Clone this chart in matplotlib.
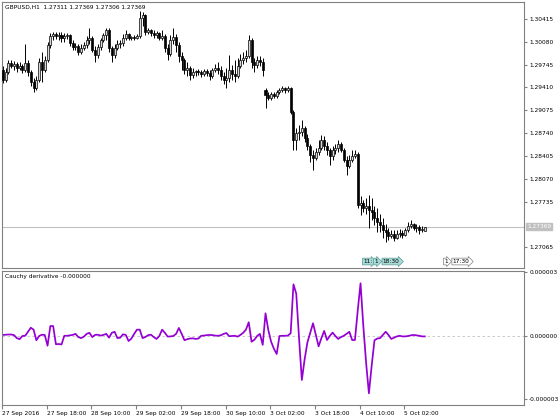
import matplotlib
matplotlib.use('Agg')
import matplotlib.pyplot as plt
import numpy as np

# GBPUSD H1 candles
symbol = 'GBPUSD,H1'
opens = [
    1.29667, 1.29520, 1.29638, 1.29770, 1.29726, 1.29755, 1.29696, 1.29726, 1.29667, 1.29770,
    1.29638, 1.29491, 1.29403, 1.29520, 1.29784, 1.29667, 1.29814, 1.30034, 1.30166, 1.30195,
    1.30166, 1.30181, 1.30137, 1.30166, 1.30181, 1.30063, 1.30004, 1.30019, 1.29931, 1.29990,
    1.30034, 1.30107, 1.30137, 1.29961, 1.29887, 1.30004, 1.30107, 1.30181, 1.30254, 1.29990,
    1.29887, 1.29990, 1.30049, 1.30063, 1.30137, 1.30195, 1.30137, 1.30151, 1.30137, 1.30166,
    1.30430, 1.30474, 1.30225, 1.30254, 1.30210, 1.30181, 1.30210, 1.30137, 1.30166, 1.29990,
    1.29902, 1.30107, 1.30151, 1.30034, 1.29872, 1.29814, 1.29667, 1.29696, 1.29594, 1.29638,
    1.29652, 1.29638, 1.29608, 1.29652, 1.29623, 1.29579, 1.29667, 1.29696, 1.29667, 1.29579,
    1.29520, 1.29550, 1.29667, 1.29608, 1.29579, 1.29726, 1.29814, 1.29843, 1.29872, 1.30107,
    1.29784, 1.29740, 1.29814, 1.29784, 1.29374, 1.29300, 1.29256, 1.29315, 1.29286, 1.29344,
    1.29374, 1.29403, 1.29374, 1.29403, 1.29051, 1.28640, 1.28743, 1.28758, 1.28816, 1.28670,
    1.28552, 1.28420, 1.28376, 1.28464, 1.28523, 1.28640, 1.28552, 1.28494, 1.28405, 1.28494,
    1.28523, 1.28582, 1.28494, 1.28347, 1.28259, 1.28347, 1.28405, 1.28435, 1.27687, 1.27716,
    1.27643, 1.27672, 1.27613, 1.27584, 1.27496, 1.27437, 1.27393, 1.27320, 1.27291, 1.27232,
    1.27261, 1.27203, 1.27261, 1.27276, 1.27247, 1.27320, 1.27379, 1.27408, 1.27349, 1.27364,
    1.27320, 1.27311]
highs = [
    1.29726, 1.29696, 1.29814, 1.29814, 1.29799, 1.29784, 1.29784, 1.29755, 1.30049, 1.29814,
    1.29667, 1.29550, 1.29579, 1.29843, 1.29931, 1.29872, 1.30078, 1.30210, 1.30225, 1.30225,
    1.30225, 1.30225, 1.30210, 1.30210, 1.30195, 1.30107, 1.30063, 1.30049, 1.30049, 1.30078,
    1.30166, 1.30283, 1.30166, 1.30019, 1.30049, 1.30137, 1.30210, 1.30283, 1.30283, 1.30019,
    1.30049, 1.30107, 1.30107, 1.30195, 1.30254, 1.30210, 1.30166, 1.30181, 1.30195, 1.30533,
    1.30518, 1.30489, 1.30283, 1.30269, 1.30254, 1.30239, 1.30225, 1.30254, 1.30195, 1.30049,
    1.30181, 1.30283, 1.30195, 1.30078, 1.29931, 1.29843, 1.29784, 1.29726, 1.29696, 1.29667,
    1.29682, 1.29667, 1.29682, 1.29682, 1.29667, 1.29696, 1.29755, 1.29784, 1.29726, 1.29638,
    1.29696, 1.29887, 1.29740, 1.29814, 1.29843, 1.29902, 1.29931, 1.29961, 1.30181, 1.30137,
    1.29843, 1.29872, 1.29872, 1.29843, 1.29403, 1.29344, 1.29344, 1.29344, 1.29374, 1.29403,
    1.29432, 1.29418, 1.29432, 1.29418, 1.29080, 1.28816, 1.28860, 1.28934, 1.28846, 1.28728,
    1.28582, 1.28494, 1.28523, 1.28640, 1.28714, 1.28699, 1.28611, 1.28523, 1.28552, 1.28582,
    1.28640, 1.28611, 1.28523, 1.28405, 1.28420, 1.28494, 1.28494, 1.28464, 1.27819, 1.27760,
    1.27789, 1.27833, 1.27789, 1.27672, 1.27643, 1.27555, 1.27496, 1.27408, 1.27349, 1.27320,
    1.27320, 1.27320, 1.27335, 1.27320, 1.27349, 1.27437, 1.27467, 1.27423, 1.27408, 1.27393,
    1.27379, 1.27369]
lows = [
    1.29476, 1.29491, 1.29608, 1.29696, 1.29667, 1.29638, 1.29667, 1.29623, 1.29638, 1.29579,
    1.29432, 1.29344, 1.29374, 1.29491, 1.29491, 1.29638, 1.29784, 1.29990, 1.30107, 1.30122,
    1.30107, 1.30078, 1.30078, 1.30122, 1.30019, 1.29961, 1.29961, 1.29887, 1.29902, 1.29961,
    1.29990, 1.30049, 1.29931, 1.29784, 1.29843, 1.29961, 1.30078, 1.30107, 1.29931, 1.29784,
    1.29843, 1.29961, 1.29990, 1.30019, 1.30107, 1.30107, 1.30107, 1.30107, 1.30122, 1.30137,
    1.30313, 1.30181, 1.30195, 1.30166, 1.30137, 1.30137, 1.30107, 1.30107, 1.29931, 1.29814,
    1.29872, 1.30049, 1.29931, 1.29784, 1.29667, 1.29608, 1.29579, 1.29520, 1.29550, 1.29579,
    1.29594, 1.29564, 1.29579, 1.29579, 1.29520, 1.29550, 1.29638, 1.29608, 1.29520, 1.29462,
    1.29403, 1.29491, 1.29520, 1.29491, 1.29550, 1.29696, 1.29755, 1.29784, 1.29843, 1.29696,
    1.29638, 1.29696, 1.29726, 1.29579, 1.29110, 1.29227, 1.29227, 1.29256, 1.29256, 1.29315,
    1.29344, 1.29330, 1.29344, 1.29022, 1.28494, 1.28494, 1.28640, 1.28699, 1.28611, 1.28494,
    1.28318, 1.28200, 1.28347, 1.28420, 1.28494, 1.28494, 1.28420, 1.28274, 1.28347, 1.28435,
    1.28464, 1.28464, 1.28318, 1.28127, 1.28230, 1.28318, 1.28376, 1.27643, 1.27540, 1.27584,
    1.27555, 1.27349, 1.27467, 1.27393, 1.27291, 1.27291, 1.27203, 1.27144, 1.27173, 1.27203,
    1.27159, 1.27188, 1.27217, 1.27203, 1.27232, 1.27291, 1.27349, 1.27320, 1.27291, 1.27261,
    1.27291, 1.27306]
closes = [
    1.29520, 1.29638, 1.29770, 1.29726, 1.29755, 1.29696, 1.29726, 1.29667, 1.29770, 1.29638,
    1.29491, 1.29403, 1.29520, 1.29784, 1.29667, 1.29814, 1.30034, 1.30166, 1.30195, 1.30166,
    1.30181, 1.30137, 1.30166, 1.30181, 1.30063, 1.30004, 1.30019, 1.29931, 1.29990, 1.30034,
    1.30107, 1.30137, 1.29961, 1.29887, 1.30004, 1.30107, 1.30181, 1.30254, 1.29990, 1.29887,
    1.29990, 1.30049, 1.30063, 1.30137, 1.30195, 1.30137, 1.30151, 1.30137, 1.30166, 1.30430,
    1.30474, 1.30225, 1.30254, 1.30210, 1.30181, 1.30210, 1.30137, 1.30166, 1.29990, 1.29902,
    1.30107, 1.30151, 1.30034, 1.29872, 1.29814, 1.29667, 1.29696, 1.29594, 1.29638, 1.29652,
    1.29638, 1.29608, 1.29652, 1.29623, 1.29579, 1.29667, 1.29696, 1.29667, 1.29579, 1.29520,
    1.29550, 1.29667, 1.29608, 1.29579, 1.29726, 1.29814, 1.29843, 1.29872, 1.30107, 1.29784,
    1.29740, 1.29814, 1.29784, 1.29667, 1.29300, 1.29256, 1.29315, 1.29286, 1.29344, 1.29374,
    1.29403, 1.29374, 1.29403, 1.29051, 1.28640, 1.28743, 1.28758, 1.28816, 1.28670, 1.28552,
    1.28420, 1.28376, 1.28464, 1.28523, 1.28640, 1.28552, 1.28494, 1.28405, 1.28494, 1.28523,
    1.28582, 1.28494, 1.28347, 1.28259, 1.28347, 1.28405, 1.28435, 1.27687, 1.27716, 1.27643,
    1.27672, 1.27613, 1.27584, 1.27496, 1.27437, 1.27393, 1.27320, 1.27291, 1.27232, 1.27261,
    1.27203, 1.27261, 1.27276, 1.27247, 1.27320, 1.27379, 1.27408, 1.27349, 1.27364, 1.27320,
    1.27335, 1.27369]

# Cauchy derivative, units of 1e-6
cauchy = [
    0.05, 0.06, 0.07, 0.07, 0.04, -0.10, -0.15, 0.00, 0.01, 0.20,
    0.39, 0.30, -0.20, 0.00, 0.06, 0.05, -0.46, 0.47, 0.47, -0.39,
    -0.38, -0.40, 0.01, 0.01, 0.03, 0.05, 0.10, -0.05, -0.10, -0.03,
    0.10, 0.15, -0.05, 0.05, 0.06, 0.02, 0.05, 0.10, -0.08, 0.15,
    0.20, -0.10, -0.08, 0.08, 0.05, -0.24, -0.12, 0.10, 0.30, 0.30,
    -0.10, -0.05, 0.04, 0.06, -0.05, -0.14, 0.00, 0.30, 0.15, -0.03,
    -0.02, 0.00, 0.10, 0.38, 0.10, -0.20, -0.15, -0.12, -0.11, -0.14,
    -0.12, 0.01, 0.02, 0.04, 0.05, 0.04, 0.02, 0.01, 0.03, 0.10,
    0.14, -0.01, 0.00, 0.01, -0.03, 0.05, 0.15, 0.30, 0.65, -0.27,
    -0.18, 0.00, 0.10, -0.42, 1.07, 0.28, -0.27, -0.60, -0.85, 0.00,
    0.01, 0.01, 0.02, 0.13, 2.44, 2.00, -0.10, -2.08, -1.10, -0.30,
    0.15, 0.60, 0.05, -0.49, -0.10, 0.24, -0.19, 0.00, 0.16, 0.00,
    -0.14, -0.05, 0.01, 0.10, 0.20, -0.19, -0.19, 1.20, 2.49, 0.48,
    -1.27, -2.71, -1.39, -0.20, -0.12, -0.10, 0.05, 0.20, 0.05, -0.14,
    -0.08, -0.02, 0.01, -0.02, -0.02, 0.00, 0.03, 0.05, 0.03, 0.01,
    -0.02, -0.02]

price_ticks = [1.30415, 1.30080, 1.29745, 1.29410, 1.29075, 1.28740,
               1.28405, 1.28070, 1.27735, 1.27065]
ind_ticks = [3e-6, 0.0, -3e-6]
ind_labels = ['0.000003', '0.000000', '-0.000003']
time_labels = ['27 Sep 2016', '27 Sep 18:00', '28 Sep 10:00', '29 Sep 02:00',
               '29 Sep 18:00', '30 Sep 10:00', '3 Oct 02:00', '3 Oct 18:00',
               '4 Oct 10:00', '5 Oct 02:00']
# event markers along the bottom of the price window: (bar, text, style)
events = [(129, '11:', 'teal'), (133, '1', 'teal'), (136, '18:30', 'teal'),
          (158, '1', 'gray'), (161, '17:30', 'gray')]

o = np.array(opens)
h = np.array(highs)
l = np.array(lows)
c = np.array(closes)
idx = np.arange(len(c))
fs = 4.2
frame = '#808080'

fig = plt.figure(figsize=(5.6, 4.2), dpi=100)
ax = fig.add_axes([2/560, 1 - 268/420, 522/560, 266/420])
ax2 = fig.add_axes([2/560, 1 - 405/420, 522/560, 134/420])

# candles
up = c >= o
ax.vlines(idx, l, h, color='black', lw=0.7, zorder=2)
ax.bar(idx[up], (c - o)[up], bottom=o[up], width=0.72, facecolor='#d8d8d8',
       edgecolor='black', lw=0.5, zorder=3)
ax.bar(idx[~up], (o - c)[~up], bottom=c[~up], width=0.72, color='black',
       edgecolor='black', lw=0.5, zorder=3)

# bid line + label
ax.axhline(c[-1], color='#c0c0c0', lw=0.8, zorder=1)
ax.text(1.006, c[-1], '%.5f' % c[-1], transform=ax.get_yaxis_transform(),
        fontsize=fs, color='white', va='center', ha='left', clip_on=False,
        bbox=dict(boxstyle='square,pad=0.15', fc='#c0c0c0', ec='#c0c0c0'))

ax.text(0.006, 0.988, '%s  %.5f %.5f %.5f %.5f' % (symbol, o[-1], h[-1], l[-1], c[-1]),
        transform=ax.transAxes, va='top', ha='left', fontsize=fs)

# event markers
for bar, txt, style in events:
    if style == 'teal':
        fc, ec = '#a8dcd8', '#5a9a96'
    else:
        fc, ec = 'white', '#808080'
    ax.text(bar, 0.015, txt, transform=ax.get_xaxis_transform(), fontsize=fs,
            ha='left', va='bottom',
            bbox=dict(boxstyle='rarrow,pad=0.15', fc=fc, ec=ec, lw=0.5))

xlim = (-0.29, 186.5)
ax.set_xlim(*xlim)
ax.set_ylim(1.26761, 1.30664)
ax.set_xticks([])
ax.yaxis.tick_right()
ax.set_yticks(price_ticks)
ax.set_yticklabels(['%.5f' % p for p in price_ticks])

# indicator
ax2.axhline(0, color='#c0c0c0', lw=0.6, ls=(0, (3, 3)))
ax2.plot(idx, np.array(cauchy) * 1e-6, color='#9400D3', lw=1.25)
ax2.text(0.006, 0.975, 'Cauchy derivative -0.000000', transform=ax2.transAxes,
         va='top', ha='left', fontsize=fs)
ax2.set_xlim(*xlim)
ax2.set_ylim(-3.26e-6, 3.07e-6)
ax2.yaxis.tick_right()
ax2.set_yticks(ind_ticks)
ax2.set_yticklabels(ind_labels)
ax2.set_xticks(np.arange(len(time_labels)) * 16 - 0.3)
ax2.set_xticklabels(time_labels, ha='left')

for a in (ax, ax2):
    for s in a.spines.values():
        s.set_color(frame)
        s.set_linewidth(0.8)
    a.tick_params(axis='y', direction='out', length=2.5, pad=1.2,
                  labelsize=fs, color=frame)
    a.tick_params(axis='x', direction='out', length=3, pad=1,
                  labelsize=fs, color=frame)

fig.savefig('out.png', dpi=100)
